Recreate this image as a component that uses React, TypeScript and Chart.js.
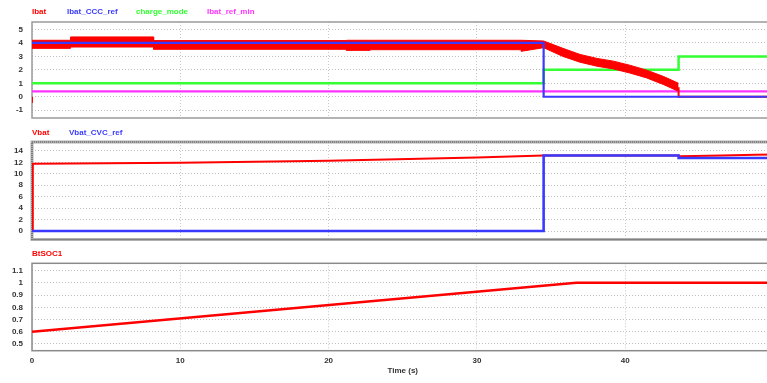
import React, { useEffect, useRef } from 'react';
import { Chart, registerables } from 'chart.js';

Chart.register(...registerables);

// ---- shared time axis (s) ----
const timeTicks = [0, 10, 20, 30, 40, 50];

// ---- panel 1: battery current and current references ----
const currentTicks = [-1, 0, 1, 2, 3, 4, 5];

// Ibat noise envelope (upper / lower bound of the switching ripple)
const ibatBandTime = [0, 2.6, 2.6, 8.2, 8.2, 21.2, 21.2, 22.8, 22.8, 33.0, 33.0, 34.5, 35.8, 36.95, 38.1, 39.2, 40.3, 41.45, 42.6, 43.6];
const ibatBandHigh = [4.2, 4.2, 4.45, 4.45, 4.18, 4.18, 4.2, 4.2, 4.2, 4.2, 4.2, 4.15, 3.6, 3.15, 2.85, 2.65, 2.35, 1.98, 1.5, 1.0];
const ibatBandLow = [3.6, 3.6, 3.7, 3.7, 3.53, 3.53, 3.45, 3.45, 3.5, 3.5, 3.38, 3.65, 3.0, 2.57, 2.27, 2.07, 1.77, 1.4, 0.9, 0.4];

// Ibat start-up dip and the cut-off tail
const ibatEdgeTime = [0, 0, 43.6, 43.6, 43.6, 51];
const ibatEdgeValue: (number | null)[] = [0, -0.45, null, 0.7, 0, 0];

const ibatRefTime = [0, 34.5, 34.5, 51];
const ibatRefValue = [4, 4, 0, 0];

const chargeModeTime = [0, 34.5, 34.5, 43.6, 43.6, 51];
const chargeModeValue = [1, 1, 2, 2, 3, 3];

const ibatMinTime = [0, 51];
const ibatMinValue = [0.4, 0.4];

// ---- panel 2: battery voltage and CV reference ----
const voltageTicks = [0, 2, 4, 6, 8, 10, 12, 14];

const vbatTime = [0, 0.05, 10, 20, 30, 34.5, 43.6, 43.7, 46.5, 48.8, 51];
const vbatValue = [0, 11.75, 11.95, 12.3, 12.85, 13.2, 13.2, 13.08, 13.2, 13.35, 13.42];

const vbatRefTime = [0, 34.5, 34.5, 43.6, 43.6, 51];
const vbatRefValue = [0, 0, 13.2, 13.2, 12.78, 12.78];

// ---- panel 3: state of charge ----
const socTicks = [0.5, 0.6, 0.7, 0.8, 0.9, 1, 1.1];
const socTime = [0, 36.7, 51];
const socValue = [0.6, 1.0, 1.0];

// ---- series names shown above each panel ----
const currentSeries = ['Ibat', 'Ibat_CCC_ref', 'charge_mode', 'Ibat_ref_min'];
const voltageSeries = ['Vbat', 'Vbat_CVC_ref'];
const socSeries = ['BtSOC1'];

const RED = '#ff0000';
const BLUE = '#3a3aff';
const GREEN = '#33ff33';
const MAGENTA = '#ff33ff';

const FONT = '"Liberation Sans", Arial, sans-serif';
const tickFont = { family: FONT, size: 8, weight: 'bold' as const };

const pts = (xs: number[], ys: (number | null)[]) => xs.map((x, i) => ({ x, y: ys[i] }));

function line(label: string, xs: number[], ys: (number | null)[], color: string, width: number, extra: any = {}) {
  return {
    label,
    data: pts(xs, ys),
    borderColor: color,
    backgroundColor: color,
    borderWidth: width,
    pointRadius: 0,
    tension: 0,
    fill: false,
    ...extra,
  };
}

// plot frame drawn around the chart area
function frame(color: string, width: number, dashColor?: string) {
  return {
    id: 'frame',
    beforeDatasetsDraw(chart: any) {
      const { ctx, chartArea: a } = chart;
      ctx.save();
      ctx.strokeStyle = color;
      ctx.lineWidth = width;
      ctx.strokeRect(a.left, a.top, a.right - a.left, a.bottom - a.top);
      if (dashColor) {
        ctx.strokeStyle = dashColor;
        ctx.lineWidth = 1.2;
        ctx.setLineDash([1, 1]);
        ctx.strokeRect(a.left, a.top, a.right - a.left, a.bottom - a.top);
      }
      ctx.restore();
    },
  };
}

function panelOptions(yMin: number, yMax: number, yTicks: number[], showTime: boolean, padding: any) {
  return {
    responsive: false,
    animation: false as const,
    events: [],
    layout: { padding },
    plugins: { legend: { display: false }, tooltip: { enabled: false } },
    scales: {
      x: {
        type: 'linear' as const,
        min: 0,
        max: 50,
        afterBuildTicks: (s: any) => {
          s.ticks = timeTicks.map((v) => ({ value: v }));
        },
        afterFit: (s: any) => {
          s.height = showTime ? 25 : 0;
        },
        grid: { color: '#c8c8c8', drawTicks: false },
        border: { display: false, dash: [1, 2] },
        ticks: {
          display: showTime,
          padding: 5,
          font: tickFont,
          color: '#333',
          maxRotation: 0,
          autoSkip: false,
        },
        title: { display: showTime, text: 'Time (s)', font: tickFont, color: '#333', padding: 0 },
      },
      y: {
        type: 'linear' as const,
        min: yMin,
        max: yMax,
        afterBuildTicks: (s: any) => {
          s.ticks = yTicks.map((v) => ({ value: v }));
        },
        afterFit: (s: any) => {
          s.width = 32;
        },
        grid: { color: '#bdbdbd', drawTicks: false },
        border: { display: false, dash: [1, 2] },
        ticks: { padding: 9, font: tickFont, color: '#333', autoSkip: false, callback: (v: any) => String(v) },
      },
    },
  };
}

const label = (text: string, color: string, left: number, top: number) => (
  <span
    key={text}
    style={{
      position: 'absolute',
      left,
      top,
      fontFamily: FONT,
      fontSize: 8,
      fontWeight: 'bold',
      lineHeight: '10px',
      color,
      whiteSpace: 'nowrap',
    }}
  >
    {text}
  </span>
);

export default function App() {
  const c1 = useRef<HTMLCanvasElement>(null);
  const c2 = useRef<HTMLCanvasElement>(null);
  const c3 = useRef<HTMLCanvasElement>(null);

  useEffect(() => {
    const charts: Chart[] = [];

    charts.push(
      new Chart(c1.current!, {
        type: 'line',
        data: {
          datasets: [
            line(currentSeries[1], ibatRefTime, ibatRefValue, BLUE, 2.2),
            line(currentSeries[0], ibatBandTime, ibatBandHigh, RED, 1),
            line(currentSeries[0] + ' low', ibatBandTime, ibatBandLow, RED, 1, { fill: '-1' }),
            line(currentSeries[0] + ' edge', ibatEdgeTime, ibatEdgeValue, RED, 2),
            line(currentSeries[2], chargeModeTime, chargeModeValue, GREEN, 2.5),
            line(currentSeries[3], ibatMinTime, ibatMinValue, MAGENTA, 2.2),
          ] as any,
        },
        options: panelOptions(-1.58, 5.56, currentTicks, false, { top: 22, bottom: 14, left: 0, right: 16.5 }) as any,
        plugins: [frame('#9a9a9a', 1.5)],
      })
    );

    charts.push(
      new Chart(c2.current!, {
        type: 'line',
        data: {
          datasets: [
            line(voltageSeries[1], vbatRefTime, vbatRefValue, BLUE, 2.6),
            line(voltageSeries[0], vbatTime, vbatValue, RED, 2),
          ] as any,
        },
        options: panelOptions(-1.48, 15.57, voltageTicks, false, { top: 18, bottom: 14.5, left: 0, right: 16.5 }) as any,
        plugins: [frame('#b0b0b0', 3, '#555')],
      })
    );

    charts.push(
      new Chart(c3.current!, {
        type: 'line',
        data: {
          datasets: [line(socSeries[0], socTime, socValue, RED, 2.5)] as any,
        },
        options: panelOptions(0.445, 1.16, socTicks, true, { top: 17.3, bottom: 7.3, left: 0, right: 16.5 }) as any,
        plugins: [frame('#8a8a8a', 1.5)],
      })
    );

    return () => charts.forEach((c) => c.destroy());
  }, []);

  const canvasStyle = (top: number, height: number): React.CSSProperties => ({
    position: 'absolute',
    left: 0,
    top,
    width: 790,
    height,
    display: 'block',
  });

  return (
    <div
      style={{
        position: 'fixed',
        left: 0,
        top: 0,
        width: 767,
        height: 383,
        overflow: 'hidden',
        background: '#ffffff',
      }}
    >
      <canvas ref={c1} width={790} height={132} style={canvasStyle(0, 132)} />
      <canvas ref={c2} width={790} height={130} style={canvasStyle(124, 130)} />
      <canvas ref={c3} width={790} height={137} style={canvasStyle(246, 137)} />
      {label(currentSeries[0], RED, 32, 7)}
      {label(currentSeries[1], BLUE, 67, 7)}
      {label(currentSeries[2], GREEN, 136, 7)}
      {label(currentSeries[3], MAGENTA, 207, 7)}
      {label(voltageSeries[0], RED, 32, 128)}
      {label(voltageSeries[1], BLUE, 69, 128)}
      {label(socSeries[0], RED, 32, 249)}
    </div>
  );
}
